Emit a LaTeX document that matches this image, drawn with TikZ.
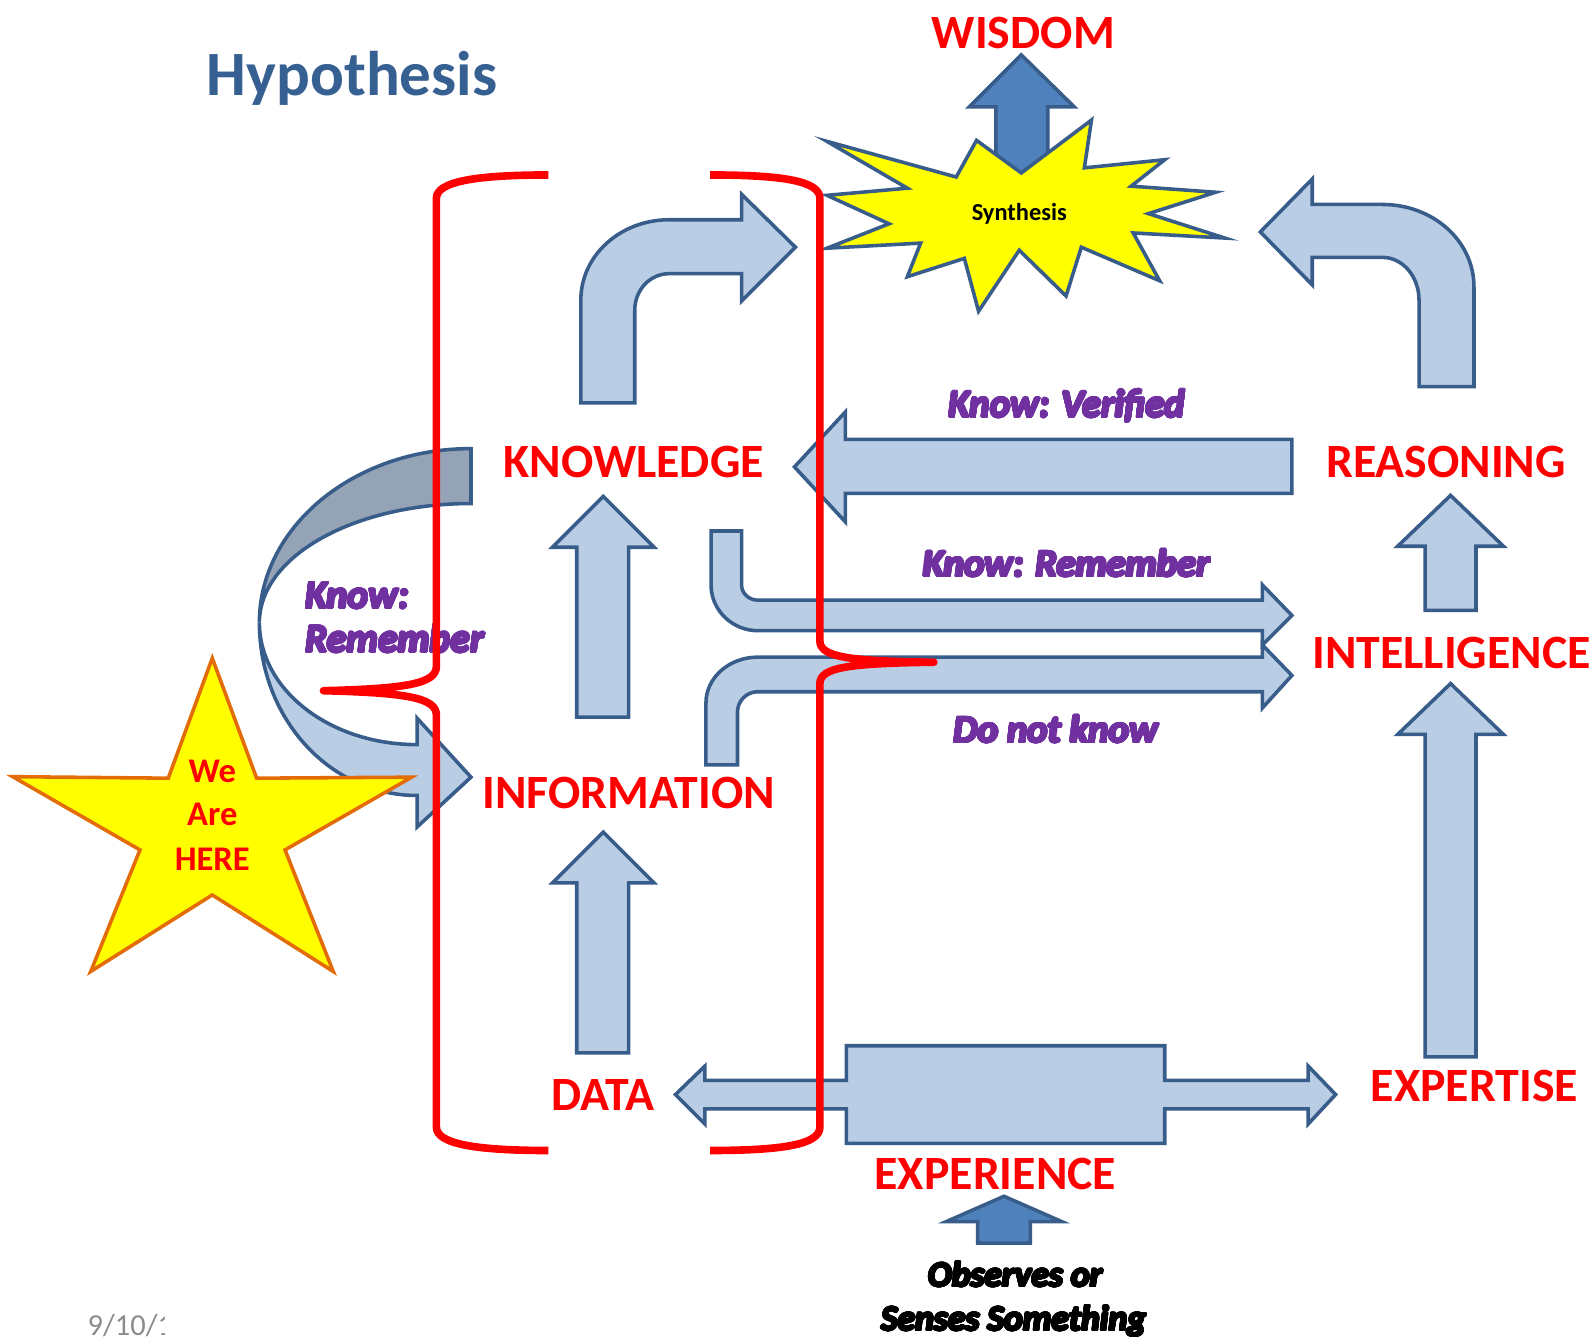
\documentclass[tikz,border=0pt]{standalone}
\usepackage{fontspec}
\usepackage{contour}
\setmainfont{Carlito}
\contourlength{1.1pt}
\contournumber{24}
\definecolor{arrowfill}{HTML}{B9CDE5}
\definecolor{arrowline}{HTML}{385D8A}
\definecolor{arrowback}{HTML}{95A3B6}
\definecolor{arrowdark}{HTML}{4F81BD}
\definecolor{labelred}{HTML}{FF0000}
\definecolor{notepurple}{HTML}{7030A0}
\definecolor{titleblue}{HTML}{376092}
\definecolor{dategray}{HTML}{8C8C8C}
\definecolor{starfill}{HTML}{FFFF00}
\definecolor{starline}{HTML}{E36C09}
% heavy italic note text
\newcommand{\purplenote}[1]{\contour{notepurple}{#1}}
\newcommand{\blacknote}[1]{\contour{black}{#1}}
\begin{document}
\begin{tikzpicture}[x=1pt,y=-1pt,
  blockarrow/.style={fill=arrowfill,draw=arrowline,line width=3.5pt,line join=miter},
  backarrow/.style={fill=arrowback,draw=arrowline,line width=3.5pt},
  darkarrow/.style={fill=arrowdark,draw=arrowline,line width=3.5pt},
  stagelbl/.style={text=labelred,font=\fontsize{47}{47}\selectfont\bfseries,inner sep=0pt,anchor=base},
  notelbl/.style={text=notepurple,font=\fontsize{38}{38}\selectfont\bfseries\itshape,inner sep=0pt,anchor=base},
  senselbl/.style={text=black,font=\fontsize{35}{35}\selectfont\bfseries\itshape,inner sep=0pt,anchor=base},
  herelbl/.style={text=labelred,font=\fontsize{34}{34}\selectfont\bfseries,inner sep=0pt,anchor=base},
  bracket/.style={draw=labelred,line width=7.5pt,line join=round}
]
\useasboundingbox (0,0) rectangle (1568,1318);

% title
\node[text=titleblue,font=\fontsize{62}{62}\selectfont\bfseries,inner sep=0pt,anchor=base west] (title) at (203,94) {Hypothesis};

% date in the corner, cut off at the edge of the slide footer
\begin{scope}
  \clip (60,1270) rectangle (162,1318);
  \node[text=dategray,font=\fontsize{30}{30}\selectfont,inner sep=0pt,anchor=base west] (date) at (86,1313) {9/10/1};
\end{scope}

% arrow up to wisdom (behind the burst)
\draw[darkarrow] (979,178) -- (979,105) -- (953,105) -- (1004,54) -- (1056,105) -- (1030,105) -- (1030,178) -- cycle;

% synthesis burst
\draw[fill=starfill,draw=arrowline,line width=3.5pt]
  (813,139) -- (940,174) -- (960,138) -- (1004,170) -- (1073,118) -- (1066,165) --
  (1145,157) -- (1112,183) -- (1195,189) -- (1129,210) -- (1204,234) -- (1114,229) --
  (1140,276) -- (1063,243) -- (1048,291) -- (1002,246) -- (962,306) -- (948,254) --
  (892,272) -- (905,239) -- (813,244) -- (874,220) -- (813,192) -- (892,185) -- cycle;
\node[font=\fontsize{24}{24}\selectfont\bfseries,inner sep=0pt,anchor=base] (synth) at (1002,217) {Synthesis};

% knowledge -> synthesis
\draw[blockarrow] (571,396) -- (571,295) .. controls (571,251) and (610,216) .. (658,216) --
  (729,216) -- (729,191) -- (782,243) -- (729,296) -- (729,269) -- (658,269)
  .. controls (639,269) and (624,285) .. (624,305) -- (624,396) -- cycle;

% reasoning -> synthesis
\draw[blockarrow] (1449,380) -- (1449,282) .. controls (1449,237) and (1409,201) .. (1359,201) --
  (1290,201) -- (1290,176) -- (1239,228) -- (1290,280) -- (1290,253) -- (1359,253)
  .. controls (1379,253) and (1395,272) .. (1395,295) -- (1395,380) -- cycle;

% reasoning -> knowledge (verified)
\draw[blockarrow] (1270,432) -- (831,432) -- (831,405) -- (781,459) -- (831,513) -- (831,485) -- (1270,485) -- cycle;

% data -> information -> knowledge
\draw[blockarrow] (567,1035) -- (567,868) -- (543,868) -- (593,818) -- (643,868) -- (618,868) -- (618,1035) -- cycle;
\draw[blockarrow] (567,705) -- (567,538) -- (543,538) -- (593,488) -- (643,538) -- (618,538) -- (618,705) -- cycle;

% intelligence -> reasoning, expertise -> intelligence
\draw[blockarrow] (1401,600) -- (1401,537) -- (1374,537) -- (1426,487) -- (1478,537) -- (1451,537) -- (1451,600) -- cycle;
\draw[blockarrow] (1401,1039) -- (1401,722) -- (1374,722) -- (1426,672) -- (1478,722) -- (1451,722) -- (1451,1039) -- cycle;

% know: remember -> intelligence
\draw[blockarrow] (699,522) -- (699,575) .. controls (699,600) and (720,620) .. (745,620) --
  (1241,620) -- (1241,634) -- (1270,605) -- (1241,575) -- (1241,590) -- (745,590)
  .. controls (736,590) and (729,583) .. (729,575) -- (729,522) -- cycle;

% do not know -> intelligence
\draw[blockarrow] (694,752) -- (694,691) .. controls (694,666) and (717,646) .. (745,646) --
  (1241,646) -- (1241,634) -- (1270,664) -- (1241,696) -- (1241,680) -- (745,680)
  .. controls (734,680) and (725,689) .. (725,700) -- (725,752) -- cycle;

% experience: double arrow towards data and expertise
\draw[blockarrow] (832,1028) -- (1145,1028) -- (1145,1062) -- (1286,1062) -- (1286,1048) -- (1313,1076) --
  (1286,1105) -- (1286,1090) -- (1145,1090) -- (1145,1124) -- (832,1124) -- (832,1090) --
  (693,1090) -- (693,1105) -- (664,1076) -- (693,1048) -- (693,1062) -- (832,1062) -- cycle;

% observation feeding experience
\draw[darkarrow] (961,1222) -- (961,1201) -- (930,1201) -- (987,1176) -- (1044,1201) -- (1013,1201) -- (1013,1222) -- cycle;

% curved arrow: knowledge back to information
\draw[backarrow] (463,441) -- (463,495) .. controls (348,495) and (255,547) .. (255,612)
  .. controls (255,518) and (348,441) .. (463,441) -- cycle;
\draw[blockarrow] (255,612) .. controls (255,706) and (324,782) .. (410,782) --
  (410,813) -- (463,764) -- (410,706) -- (410,732)
  .. controls (324,732) and (255,678) .. (255,612) -- cycle;

% we are here star
\draw[fill=starfill,draw=starline,line width=3.5pt]
  (208.7,647) -- (252.3,765) -- (404.7,764) -- (280.2,835.5) -- (327.6,955) -- (208.7,879.8) --
  (89.2,955) -- (137.6,835.5) -- (12.5,763.5) -- (165.4,765) -- cycle;
\node[herelbl] (we) at (208.7,769.5) {We};
\node[herelbl] (are) at (208.7,812) {Are};
\node[herelbl] (here) at (208.7,856) {HERE};

% stage labels
\node[stagelbl] (wisdom) at (1006,48) {WISDOM};
\node[stagelbl] (knowledge) at (623,469) {KNOWLEDGE};
\node[stagelbl] (information) at (618,795) {INFORMATION};
\node[stagelbl] (data) at (593,1092) {DATA};
\node[stagelbl] (reasoning) at (1421.5,469) {REASONING};
\node[stagelbl] (intelligence) at (1427,657) {INTELLIGENCE};
\node[stagelbl] (expertise) at (1449.5,1083) {EXPERTISE};
\node[stagelbl] (experience) at (978.5,1169) {EXPERIENCE};

% notes on the arrows
\node[notelbl] (verified) at (1049,410) {\purplenote{Know: Verified}};
\node[notelbl] (remember) at (1048.5,567) {\purplenote{Know: Remember}};
\node[notelbl] (notknow) at (1038,730) {\purplenote{Do not know}};
\node[notelbl,anchor=base west,font=\fontsize{39}{39}\selectfont\bfseries\itshape] (knowl) at (300,598) {\purplenote{Know:}};
\node[notelbl,anchor=base west,font=\fontsize{39}{39}\selectfont\bfseries\itshape] (rememberl) at (300,641) {\purplenote{Remember}};
\node[senselbl] (observes) at (998,1265) {\blacknote{Observes or}};
\node[senselbl] (senses) at (996.5,1308) {\blacknote{Senses Something}};

% red brackets around data, information and knowledge
\draw[bracket] (539,172) .. controls (470,172) and (429,178) .. (429,195) -- (429,655)
  .. controls (429,672) and (400,677) .. (318,679)
  .. controls (400,681) and (429,686) .. (429,703) -- (429,1108)
  .. controls (429,1125) and (470,1131) .. (539,1131);
\draw[bracket] (698,172) .. controls (770,172) and (806,178) .. (806,195) -- (806,630)
  .. controls (806,646) and (835,650) .. (918,651)
  .. controls (835,652) and (806,656) .. (806,672) -- (806,1108)
  .. controls (806,1125) and (770,1131) .. (698,1131);
\end{tikzpicture}
\end{document}
